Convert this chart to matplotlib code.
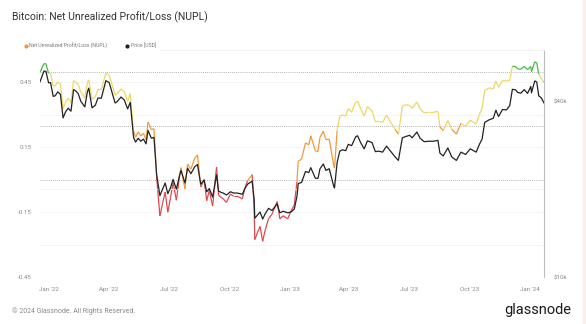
import matplotlib
matplotlib.use('Agg')
import matplotlib.pyplot as plt
import matplotlib.dates as mdates
from matplotlib.collections import LineCollection
from matplotlib.ticker import FixedLocator, NullFormatter, NullLocator
import numpy as np
import pandas as pd

# values
dates = [
    '2021-12-18', '2021-12-24', '2021-12-27', '2021-12-31', '2022-01-03', '2022-01-07', '2022-01-10',
    '2022-01-14', '2022-01-18', '2022-01-22', '2022-01-26', '2022-01-30', '2022-02-03', '2022-02-07',
    '2022-02-10', '2022-02-14', '2022-02-18', '2022-02-24', '2022-02-28', '2022-03-02', '2022-03-07',
    '2022-03-12', '2022-03-16', '2022-03-21', '2022-03-25', '2022-03-28', '2022-04-02', '2022-04-06',
    '2022-04-11', '2022-04-14', '2022-04-20', '2022-04-25', '2022-04-30', '2022-05-04', '2022-05-09',
    '2022-05-12', '2022-05-16', '2022-05-20', '2022-05-24', '2022-05-28', '2022-05-31', '2022-06-05',
    '2022-06-09', '2022-06-13', '2022-06-18', '2022-06-22', '2022-06-26', '2022-06-30', '2022-07-04',
    '2022-07-08', '2022-07-13', '2022-07-18', '2022-07-20', '2022-07-26', '2022-07-30', '2022-08-04',
    '2022-08-10', '2022-08-14', '2022-08-19', '2022-08-24', '2022-08-28', '2022-09-01', '2022-09-06',
    '2022-09-12', '2022-09-15', '2022-09-19', '2022-09-22', '2022-09-27', '2022-10-03', '2022-10-08',
    '2022-10-13', '2022-10-18', '2022-10-21', '2022-10-25', '2022-10-29', '2022-11-05', '2022-11-08',
    '2022-11-09', '2022-11-13', '2022-11-17', '2022-11-21', '2022-11-25', '2022-11-30', '2022-12-05',
    '2022-12-13', '2022-12-17', '2022-12-22', '2022-12-29', '2023-01-03', '2023-01-08', '2023-01-12',
    '2023-01-14', '2023-01-19', '2023-01-25', '2023-01-30', '2023-02-02', '2023-02-09', '2023-02-13',
    '2023-02-16', '2023-02-21', '2023-02-25', '2023-03-02', '2023-03-09', '2023-03-10', '2023-03-14',
    '2023-03-18', '2023-03-22', '2023-03-27', '2023-03-31', '2023-04-05', '2023-04-11', '2023-04-14',
    '2023-04-19', '2023-04-24', '2023-04-29', '2023-05-06', '2023-05-11', '2023-05-16', '2023-05-22',
    '2023-05-28', '2023-06-02', '2023-06-10', '2023-06-15', '2023-06-21', '2023-06-26', '2023-07-02',
    '2023-07-06', '2023-07-13', '2023-07-18', '2023-07-24', '2023-07-31', '2023-08-07', '2023-08-14',
    '2023-08-17', '2023-08-22', '2023-08-29', '2023-09-04', '2023-09-11', '2023-09-18', '2023-09-25',
    '2023-10-02', '2023-10-11', '2023-10-16', '2023-10-20', '2023-10-24', '2023-10-31', '2023-11-06',
    '2023-11-10', '2023-11-14', '2023-11-20', '2023-11-26', '2023-12-01', '2023-12-05', '2023-12-10',
    '2023-12-13', '2023-12-18', '2023-12-23', '2023-12-28', '2024-01-02', '2024-01-03', '2024-01-08',
    '2024-01-11', '2024-01-14', '2024-01-18', '2024-01-22',
]

price = [
    46.7, 50.8, 50.7, 46.3, 46.4, 41.6, 41.8, 43.1, 42.3, 35.1, 36.9, 37.9, 37.0, 43.9,
    43.5, 42.5, 40.0, 38.3, 43.2, 44.4, 38.0, 38.8, 41.1, 41.0, 44.3, 47.1, 46.4, 43.2,
    39.5, 39.9, 41.4, 40.4, 37.7, 39.7, 30.1, 29.0, 29.9, 29.2, 29.7, 28.6, 31.8, 29.9,
    30.1, 22.5, 19.0, 20.0, 21.0, 19.3, 20.2, 21.6, 20.0, 22.4, 23.2, 21.0, 23.6, 22.6,
    23.9, 24.3, 20.8, 21.5, 19.6, 20.1, 18.8, 22.4, 19.7, 19.5, 19.4, 19.1, 19.6, 19.4,
    19.4, 19.3, 19.2, 20.1, 20.8, 21.3, 18.5, 15.9, 16.3, 16.7, 15.8, 16.5, 17.2, 16.9,
    17.8, 16.6, 16.8, 16.6, 16.7, 17.1, 18.9, 20.9, 21.1, 23.0, 22.8, 23.7, 21.8, 21.8,
    23.5, 24.4, 23.2, 23.5, 20.4, 20.2, 24.7, 27.0, 27.3, 27.1, 28.5, 28.2, 30.2, 30.5,
    28.8, 27.5, 29.3, 28.9, 26.9, 27.0, 26.8, 28.1, 27.2, 25.8, 25.1, 30.0, 30.3, 30.6,
    30.0, 31.4, 29.9, 29.1, 29.2, 29.2, 29.4, 26.6, 26.0, 27.7, 25.8, 25.1, 26.8, 26.3,
    27.5, 26.8, 28.5, 29.7, 33.9, 34.6, 35.0, 37.3, 35.5, 37.5, 37.4, 38.7, 44.0, 43.8,
    42.9, 42.7, 43.9, 42.6, 45.0, 42.8, 47.0, 46.6, 41.8, 41.1, 39.5,
]  # thousands of USD

nupl = [
    0.497, 0.537, 0.536, 0.492, 0.491, 0.433, 0.435, 0.452, 0.442, 0.328, 0.360, 0.377, 0.357, 0.458,
    0.453, 0.440, 0.405, 0.379, 0.449, 0.462, 0.371, 0.384, 0.418, 0.417, 0.460, 0.493, 0.483, 0.444,
    0.392, 0.398, 0.420, 0.406, 0.363, 0.398, 0.226, 0.197, 0.221, 0.202, 0.215, 0.185, 0.267, 0.231,
    0.236, 0.013, -0.168, -0.110, -0.057, -0.150, -0.084, -0.014, -0.095, 0.022, 0.056, -0.043, 0.072, 0.049,
    0.100, 0.115, -0.034, 0.000, -0.097, -0.050, -0.122, 0.058, -0.071, -0.082, -0.088, -0.105, -0.066, -0.077,
    -0.077, -0.083, -0.089, -0.040, -0.005, 0.023, -0.124, -0.277, -0.245, -0.216, -0.285, -0.230, -0.180, -0.160,
    -0.101, -0.181, -0.167, -0.181, -0.144, -0.117, -0.011, 0.086, 0.095, 0.170, 0.162, 0.203, 0.133, 0.133,
    0.196, 0.225, 0.185, 0.187, 0.064, 0.054, 0.227, 0.293, 0.300, 0.295, 0.330, 0.312, 0.358, 0.364,
    0.326, 0.295, 0.338, 0.318, 0.268, 0.270, 0.265, 0.299, 0.272, 0.233, 0.211, 0.340, 0.347, 0.343,
    0.330, 0.360, 0.328, 0.309, 0.312, 0.312, 0.316, 0.244, 0.227, 0.274, 0.233, 0.211, 0.261, 0.247,
    0.276, 0.257, 0.302, 0.330, 0.413, 0.425, 0.420, 0.456, 0.428, 0.459, 0.457, 0.460, 0.525, 0.523,
    0.513, 0.511, 0.524, 0.509, 0.524, 0.500, 0.545, 0.541, 0.488, 0.470, 0.448,
]

xtick_dates = ['2022-01-01', '2022-04-01', '2022-07-01', '2022-10-01', '2023-01-01',
               '2023-04-01', '2023-07-01', '2023-10-01', '2024-01-01']
xtick_labels = ["Jan '22", "Apr '22", "Jul '22", "Oct '22", "Jan '23",
                "Apr '23", "Jul '23", "Oct '23", "Jan '24"]
nupl_ticks = [-0.45, -0.15, 0.15, 0.45]
zone_lines = [0.0, 0.25, 0.5]


def zone_color(v):
    if v < 0:
        return '#dc4a4e'
    if v < 0.25:
        return '#ee9a3a'
    if v < 0.5:
        return '#ecd863'
    return '#4cb849'


plt.rcParams['font.family'] = ['Roboto', 'DejaVu Sans']
fig = plt.figure(figsize=(5.86, 3.24), dpi=100)
fig.patch.set_facecolor('white')
ax = fig.add_axes([40 / 586, 47 / 324, 504 / 586, 227 / 324])
ax2 = ax.twinx()

x = mdates.date2num(pd.to_datetime(dates))
y = np.array(nupl)

# faint grid + dotted zone lines on the NUPL axis
for v in [-0.45, -0.3, -0.15, 0.15, 0.3, 0.45]:
    ax.axhline(v, color='#f1f1f1', lw=0.6, zorder=0)
for v in zone_lines:
    ax.axhline(v, color='#9a9a9a', lw=0.6, ls=(0, (1, 1.5)), zorder=1)

pts = np.column_stack([x, y]).reshape(-1, 1, 2)
segs = np.concatenate([pts[:-1], pts[1:]], axis=1)
cols = [zone_color((a + b) / 2) for a, b in zip(y[:-1], y[1:])]
ax.add_collection(LineCollection(segs, colors=cols, linewidths=0.9, zorder=2))

ax2.plot(x, np.array(price) * 1000, color='#222222', lw=0.9, zorder=3)
ax2.axhline(20000, color='#f1f1f1', lw=0.6, zorder=0)
ax.set_zorder(ax2.get_zorder() - 1)
ax.patch.set_visible(True)
ax2.patch.set_visible(False)

ax.set_xlim(mdates.date2num(pd.Timestamp('2021-12-18')), mdates.date2num(pd.Timestamp('2024-01-22')))
ax.set_ylim(-0.45, 0.6)
ax2.set_yscale('log')
ax2.set_ylim(10000, 60000)

ax.set_xticks(mdates.date2num(pd.to_datetime(xtick_dates)))
ax.set_xticklabels(xtick_labels)
ax.set_yticks(nupl_ticks)
ax.set_yticklabels([f'{v:.2f}' for v in nupl_ticks])
ax2.yaxis.set_major_locator(FixedLocator([10000, 40000]))
ax2.yaxis.set_minor_locator(NullLocator())
ax2.yaxis.set_minor_formatter(NullFormatter())
ax2.set_yticklabels(['$10k', '$40k'])

for a in (ax, ax2):
    for s in a.spines.values():
        s.set_visible(False)
    a.tick_params(length=0, labelsize=4.5, labelcolor='#8a8a8a')
ax2.spines['right'].set_visible(True)
ax2.spines['right'].set_color('#bdbdbd')
ax2.spines['right'].set_linewidth(0.8)
ax.tick_params(axis='y', pad=6)
ax.tick_params(axis='x', pad=7)
ax2.tick_params(axis='y', pad=7)

# title and legend row
fig.text(12 / 586, 1 - 17 / 324, 'Bitcoin: Net Unrealized Profit/Loss (NUPL)',
         fontsize=7.5, color='#333333', va='center')
ax.plot([], [], 'o', ms=2, color='#ee9a3a', label='Net Unrealized Profit/Loss (NUPL)')
ax.plot([], [], 'o', ms=2, color='#222222', label='Price [USD]')
fig.legend(loc='center left', bbox_to_anchor=(22 / 586, 1 - 46 / 324), ncol=2, frameon=False,
           fontsize=3.7, labelcolor='#777777', handlelength=0.6, handletextpad=0.4,
           columnspacing=3.5, borderaxespad=0)
fig.add_artist(plt.Line2D([160 / 586, 544 / 586], [1 - 50 / 324, 1 - 50 / 324],
                          color='#eeeeee', lw=0.6))

fig.text(12 / 586, 1 - 311 / 324, '\u00a9 2024 Glassnode. All Rights Reserved.',
         fontsize=5, color='#8a8a8a', va='center')
fig.text(571 / 586, 1 - 310 / 324, 'glassnode', fontsize=10.5, color='#1a1a1a',
         va='center', ha='right')
fig.patches.append(plt.Rectangle((583 / 586, 0), 3 / 586, 1, transform=fig.transFigure,
                                 color='#fbefe6', zorder=0))

fig.savefig('out.png', dpi=100)
